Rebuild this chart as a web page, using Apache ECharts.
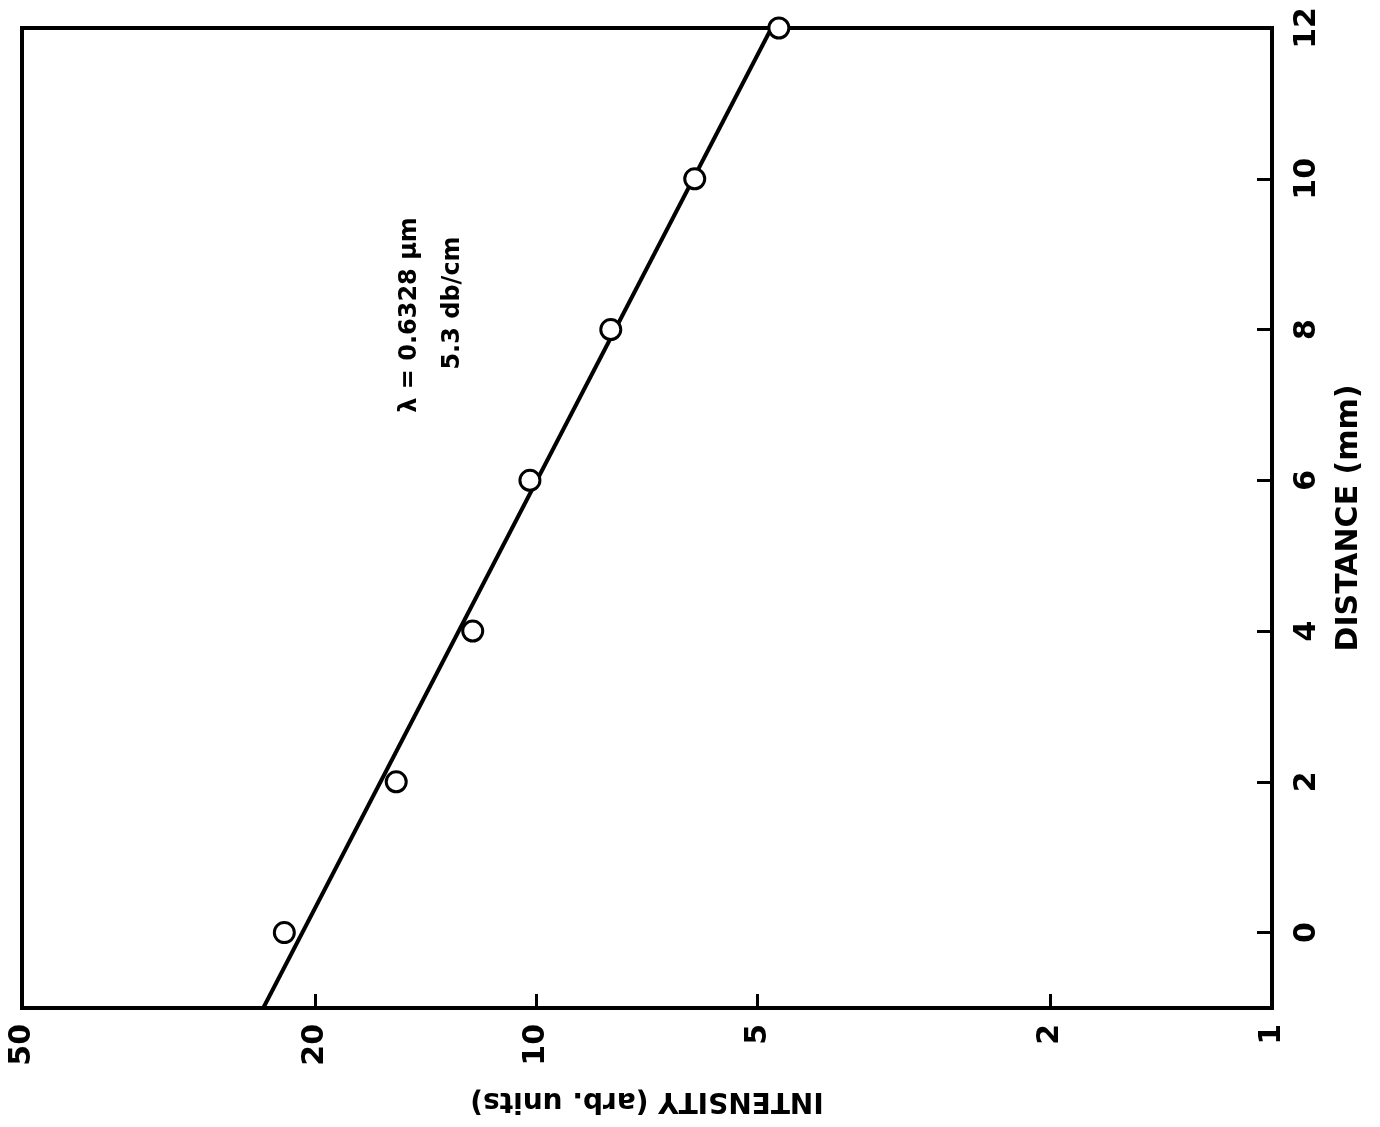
<!DOCTYPE html>
<html>
<head>
<meta charset="utf-8">
<script src="https://cdn.jsdelivr.net/npm/echarts@6/dist/echarts.min.js"></script>
<style>html,body{margin:0;padding:0;background:#fff;}#c{width:1380px;height:1127px;}</style>
</head>
<body>
<div id="c"></div>
<script>
// Measured points
const distances = [0, 2, 4, 6, 8, 10, 12];
const intensities = [22.0, 15.5, 12.2, 10.2, 7.92, 6.09, 4.68];
// Fitted line (5.3 dB/cm) endpoints
const fitDistances = [-1, 12];
const fitIntensities = [23.5, 4.79];
// Tick values
const intensityTicks = [1, 2, 5, 10, 20, 50];
const distanceTicks = [0, 2, 4, 6, 8, 10, 12];

const FONT = 'DejaVu Sans';
const chart = echarts.init(document.getElementById('c'), null, {renderer: 'canvas'});

const option = {
  animation: false,
  backgroundColor: '#fff',
  grid: {left: 22, right: 108, top: 28, bottom: 119, show: true, borderColor: '#000', borderWidth: 4, backgroundColor: 'transparent'},
  xAxis: {
    type: 'log', logBase: 10, min: 1, max: 50, inverse: true, position: 'bottom',
    name: 'INTENSITY (arb. units)', nameLocation: 'middle', nameRotate: 180, nameGap: 78,
    nameTextStyle: {fontFamily: FONT, fontWeight: 'bold', fontSize: 28, color: '#000'},
    axisLine: {show: true, onZero: false, lineStyle: {color: '#000', width: 4}},
    axisTick: {show: true, inside: true, length: 14, lineStyle: {color: '#000', width: 3}, customValues: intensityTicks},
    minorTick: {show: false},
    axisLabel: {show: true, rotate: 90, margin: 16, fontFamily: FONT, fontWeight: 'bold', fontSize: 30, color: '#000', customValues: intensityTicks, showMinLabel: true, showMaxLabel: true},
    splitLine: {show: false}
  },
  yAxis: {
    type: 'value', min: -1, max: 12, position: 'right',
    name: 'DISTANCE (mm)', nameLocation: 'middle', nameRotate: 90, nameGap: 62,
    nameTextStyle: {fontFamily: FONT, fontWeight: 'bold', fontSize: 30, color: '#000', padding: [0, 0, 0, 0]},
    axisLine: {show: true, onZero: false, lineStyle: {color: '#000', width: 4}},
    axisTick: {show: true, inside: true, length: 15, lineStyle: {color: '#000', width: 3}, customValues: distanceTicks},
    axisLabel: {show: true, rotate: 90, margin: 20, fontFamily: FONT, fontWeight: 'bold', fontSize: 30, color: '#000', customValues: distanceTicks},
    splitLine: {show: false}
  },
  series: [
    {
      type: 'line',
      data: fitDistances.map((d, i) => [fitIntensities[i], d]),
      symbol: 'none',
      lineStyle: {color: '#000', width: 4},
      z: 2
    },
    {
      type: 'scatter',
      data: distances.map((d, i) => [intensities[i], d]),
      symbol: 'circle', symbolSize: 20,
      itemStyle: {color: '#fff', borderColor: '#000', borderWidth: 3, opacity: 1},
      z: 3
    }
  ],
  graphic: [
    {type: 'text', x: 410, y: 315, rotation: Math.PI / 2,
     style: {text: 'λ = 0.6328 μm', fontFamily: FONT, fontWeight: 'bold', fontSize: 24, fill: '#000', align: 'center', verticalAlign: 'middle'}},
    {type: 'text', x: 453, y: 303, rotation: Math.PI / 2,
     style: {text: '5.3 db/cm', fontFamily: FONT, fontWeight: 'bold', fontSize: 24, fill: '#000', align: 'center', verticalAlign: 'middle'}}
  ]
};
chart.setOption(option);
</script>
</body>
</html>
